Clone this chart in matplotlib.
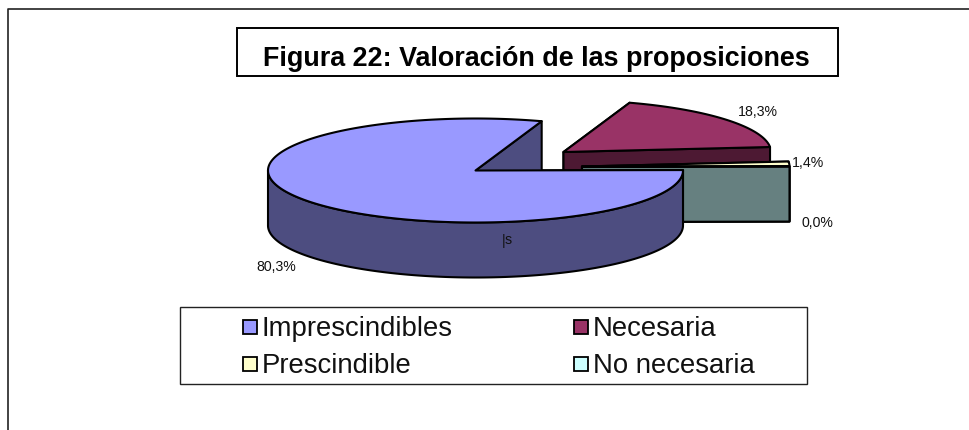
import matplotlib

matplotlib.use("Agg")

import matplotlib.pyplot as plt
import numpy as np
from matplotlib.patches import Polygon, Rectangle

plt.rcParams["font.family"] = ["Liberation Sans", "DejaVu Sans"]

TITLE = "Figura 22: Valoración de las proposiciones"
CATEGORIES = ["Necesaria", "Prescindible", "No necesaria", "Imprescindibles"]
VALUES = [18.3, 1.4, 0.0, 80.3]
TOP_COLORS = ["#993366", "#FFFFCC", "#CCFFFF", "#9999FF"]
SIDE_COLORS = ["#4D1933", "#808066", "#668080", "#4D4D80"]
LEGEND_ORDER = ["Imprescindibles", "Necesaria", "Prescindible", "No necesaria"]

# Pie geometry in pixels
RX = 207.5
RY = 52.0
DEPTH = 55.0
START_ANGLE = 71.4
CENTERS = [(563.5, 153.0), (582.0, 167.5), (582.0, 168.0), (475.5, 171.5)]
LABEL_POS = [(758, 112), (808, 163), (817, 223), (276, 267)]


def ellipse_xy(center, angles):
    rad = np.radians(angles)
    return center[0] + RX * np.cos(rad), center[1] - RY * np.sin(rad)


def draw_wedge(ax, center, start, end, top_color, side_color):
    # start > end, the slices run clockwise
    angles = np.linspace(start, end, max(int(abs(start - end) * 2), 2))
    xs, ys = ellipse_xy(center, angles)
    style = dict(edgecolor="black", linewidth=1.5, joinstyle="round")

    # Cut faces first, the top face paints over whatever it should hide
    for edge_x, edge_y in [(xs[0], ys[0]), (xs[-1], ys[-1])]:
        face = [
            center,
            (edge_x, edge_y),
            (edge_x, edge_y + DEPTH),
            (center[0], center[1] + DEPTH),
        ]
        ax.add_patch(Polygon(face, facecolor=side_color, **style))

    # Outer wall, only where the rim faces the viewer
    front = np.sin(np.radians(angles)) <= 0
    if front.any():
        wall = np.column_stack(
            [
                np.r_[xs[front], xs[front][::-1]],
                np.r_[ys[front], ys[front][::-1] + DEPTH],
            ]
        )
        ax.add_patch(Polygon(wall, facecolor=side_color, **style))

    top = np.vstack([center, np.column_stack([xs, ys])])
    ax.add_patch(Polygon(top, facecolor=top_color, **style))


def main():
    fig = plt.figure(figsize=(9.69, 4.31), dpi=100)
    ax = fig.add_axes([0, 0, 1, 1])
    ax.set_xlim(0, 969)
    ax.set_ylim(431, 0)
    ax.axis("off")

    # Page frame, open at the right and the bottom
    ax.plot([8.5, 8.5, 969], [431, 9.5, 9.5], color="#222222", linewidth=1.2)

    # Title box
    ax.add_patch(
        Rectangle((237.5, 28.5), 601, 48, facecolor="white", edgecolor="black", linewidth=1.4)
    )
    title = ax.text(
        536, 66, TITLE, fontsize=19.4, fontweight="bold", ha="center", va="baseline", color="black"
    )
    title.set_clip_path(Rectangle((237, 28), 602, 40, transform=ax.transData))

    # Slices, back to front
    angles = START_ANGLE - np.cumsum([0] + VALUES) * 3.6
    for i in [0, 1, 2, 3]:
        draw_wedge(ax, CENTERS[i], angles[i], angles[i + 1], TOP_COLORS[i], SIDE_COLORS[i])

    for value, (x, y) in zip(VALUES, LABEL_POS):
        ax.text(x, y, f"{value:.1f}%".replace(".", ","), fontsize=10.2, ha="center", va="center", color="#111111")

    # Stray overlapped label on the blue wall
    ax.text(508, 240, "s", fontsize=10.2, ha="center", va="center", color="#111111")
    ax.text(504, 241, "|", fontsize=10.2, ha="center", va="center", color="#111111")

    # Legend box
    ax.add_patch(
        Rectangle((180.5, 307.5), 627, 77, facecolor="white", edgecolor="#222222", linewidth=1.0)
    )
    legend_x = [243, 574, 243, 574]
    legend_y = [328, 328, 365, 365]
    for name, x, y in zip(LEGEND_ORDER, legend_x, legend_y):
        color = TOP_COLORS[CATEGORIES.index(name)]
        ax.add_patch(Rectangle((x, y - 7), 14, 14, facecolor=color, edgecolor="black", linewidth=1.3))
        ax.text(x + 19, y + 1, name, fontsize=19.8, ha="left", va="center", color="#111111")

    fig.savefig("out.png", dpi=100)
    plt.close(fig)


if __name__ == "__main__":
    main()
